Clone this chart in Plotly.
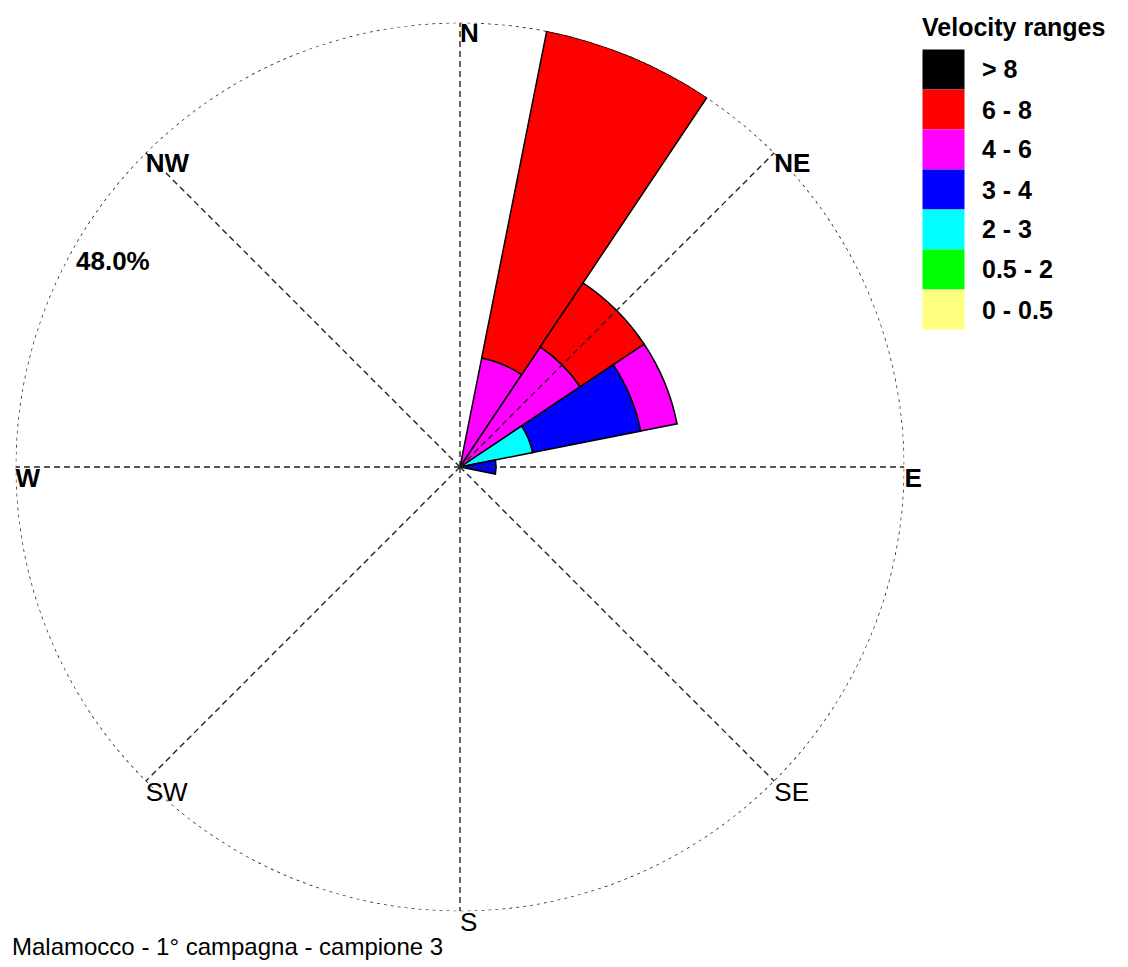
import plotly.graph_objects as go

# Wind rose: frequency (%) per direction sector, stacked by velocity class
SECTORS = ["NNE", "NE", "ENE", "E"]
SECTOR_DEG = [22.5, 45.0, 67.5, 90.0]
SECTOR_WIDTH = 22.5

# velocity classes from the centre outward
CLASSES = ["0 - 0.5", "0.5 - 2", "2 - 3", "3 - 4", "4 - 6", "6 - 8", "> 8"]
COLORS = ["#FFFF80", "#00FF00", "#00FFFF", "#0000FF", "#FF00FF", "#FF0000", "#000000"]
FREQ = {
    "0 - 0.5": [0.0, 0.0, 0.0, 0.0],
    "0.5 - 2": [0.0, 0.0, 0.0, 0.0],
    "2 - 3":   [0.0, 0.0, 8.0, 0.0],
    "3 - 4":   [0.0, 0.0, 11.9, 3.9],
    "4 - 6":   [12.0, 15.6, 4.0, 0.0],
    "6 - 8":   [36.0, 8.3, 0.0, 0.0],
    "> 8":     [0.0, 0.0, 0.0, 0.0],
}
RING = 48.0  # outer reference circle, %
COMPASS = ["N", "NE", "E", "SE", "S", "SW", "W", "NW"]
COMPASS_DEG = [0, 45, 90, 135, 180, 225, 270, 315]
TITLE = "Malamocco - 1° campagna - campione 3"
LEGEND_TITLE = "Velocity ranges"

W, H = 1128, 967
FONT = "Liberation Sans, Arial, sans-serif"

fig = go.Figure()

for name, color in zip(CLASSES, COLORS):
    vals = FREQ[name]
    th = [t for t, v in zip(SECTOR_DEG, vals) if v > 0]
    rr = [v for v in vals if v > 0]
    if not rr:
        continue
    fig.add_trace(go.Barpolar(
        r=rr, theta=th, width=[SECTOR_WIDTH] * len(rr), name=name,
        marker=dict(color=color, line=dict(color="black", width=1.5)),
        showlegend=False, hoverinfo="skip",
    ))

# dashed reference circle
circ_theta = list(range(0, 361))
fig.add_trace(go.Scatterpolar(
    r=[RING] * len(circ_theta), theta=circ_theta, mode="lines",
    line=dict(color="#222222", width=1.6, dash="3px,4px"),
    showlegend=False, hoverinfo="skip", cliponaxis=False,
))

# dashed spokes drawn over the bars
for deg in COMPASS_DEG:
    fig.add_trace(go.Scatterpolar(
        r=[0, RING], theta=[deg, deg], mode="lines",
        line=dict(color="#222222", width=1.4, dash="6px,4px"),
        showlegend=False, hoverinfo="skip", cliponaxis=False,
    ))

# compass labels at the end of each spoke
bold_dirs = {"N", "NE", "E", "W", "NW"}
fig.add_trace(go.Scatterpolar(
    r=[RING] * len(COMPASS), theta=COMPASS_DEG, mode="text",
    text=[f"<b>{c}</b>" if c in bold_dirs else c for c in COMPASS],
    textposition="bottom right",
    textfont=dict(family=FONT, size=26, color="black"),
    showlegend=False, hoverinfo="skip", cliponaxis=False,
))

cx0, cx1 = 15.5 / W, 904.5 / W
cy0, cy1 = (H - 911.5) / H, (H - 22.5) / H

fig.update_layout(
    width=W, height=H,
    margin=dict(l=0, r=0, t=0, b=0),
    paper_bgcolor="white", plot_bgcolor="white",
    font=dict(family=FONT, color="black"),
    polar=dict(
        domain=dict(x=[cx0, cx1], y=[cy0, cy1]),
        bgcolor="white",
        barmode="stack", bargap=0,
        radialaxis=dict(range=[0, RING], visible=True, showgrid=False,
                        showline=False, showticklabels=False, ticks=""),
        angularaxis=dict(direction="clockwise", rotation=90,
                         showticklabels=False, ticks="", showline=False,
                         showgrid=False),
    ),
)

annotations = [
    dict(text="<b>48.0%</b>", x=74 / W, y=1 - 261 / H, xref="paper", yref="paper",
         xanchor="left", yanchor="middle", showarrow=False,
         font=dict(family=FONT, size=26, color="black")),
    dict(text=TITLE, x=10 / W, y=1 - 946 / H, xref="paper", yref="paper",
         xanchor="left", yanchor="middle", showarrow=False,
         font=dict(family=FONT, size=24, color="black")),
    dict(text=f"<b>{LEGEND_TITLE}</b>", x=920 / W, y=1 - 27 / H, xref="paper", yref="paper",
         xanchor="left", yanchor="middle", showarrow=False,
         font=dict(family=FONT, size=25, color="black")),
]

# custom legend: colour boxes stacked from ">8" down to "0 - 0.5"
shapes = []
box_x0, box_x1 = 922.5, 964.5
box_top, box_h = 49.5, 40.0
for i, (name, color) in enumerate(zip(CLASSES[::-1], COLORS[::-1])):
    y0 = box_top + i * box_h
    shapes.append(dict(type="rect", xref="paper", yref="paper",
                       x0=box_x0 / W, x1=box_x1 / W,
                       y0=1 - (y0 + box_h) / H, y1=1 - y0 / H,
                       fillcolor=color, line=dict(width=0)))
    annotations.append(dict(text=f"<b>{name}</b>", x=980 / W, y=1 - (y0 + box_h / 2) / H,
                            xref="paper", yref="paper", xanchor="left", yanchor="middle",
                            showarrow=False, font=dict(family=FONT, size=25, color="black")))

fig.update_layout(annotations=annotations, shapes=shapes)

fig.write_html("out.html")
